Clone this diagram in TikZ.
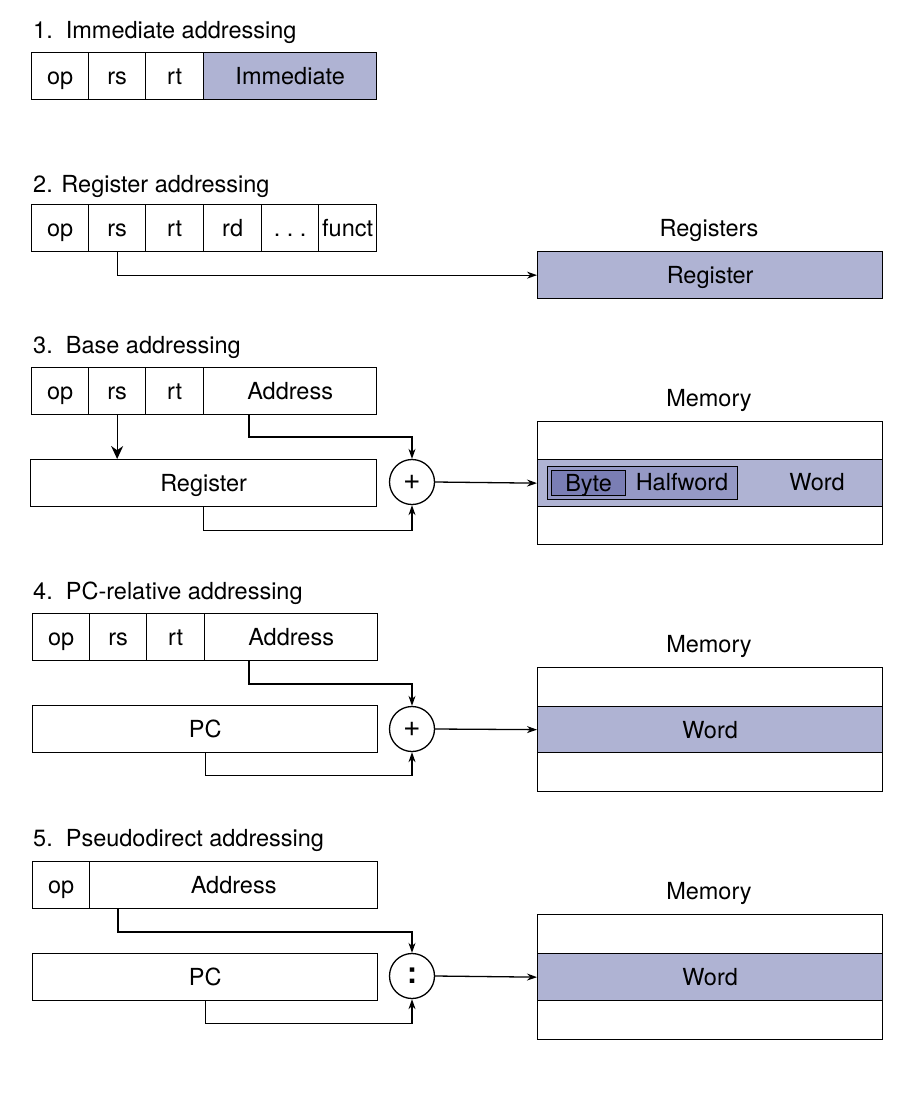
\documentclass[tikz,border=0pt]{standalone}
\usepackage{fontspec}
\setmainfont{TeX Gyre Heros}
\usetikzlibrary{arrows.meta}
\definecolor{lav}{HTML}{AFB3D3}
\definecolor{lavmid}{HTML}{9599C5}
\definecolor{lavdark}{HTML}{7A7EB4}
\begin{document}
\begin{tikzpicture}[x=1pt,y=-1pt,
  every node/.style={font=\fontsize{23.5}{28}\selectfont},
  field/.style={draw, line width=1.3pt, rectangle, inner sep=0pt, anchor=north west,
    text height=16.9pt, text depth=0pt},
  title/.style={anchor=west, inner sep=0pt, text height=16.9pt, text depth=0pt},
  plain/.style={inner sep=0pt, text height=16.9pt, text depth=0pt},
  op/.style={draw, circle, line width=1.3pt, minimum size=45pt, inner sep=0pt},
  arr/.style={line width=1.3pt, -{Stealth[length=10pt, width=7pt]}},
  bigarr/.style={line width=1.3pt, -{Stealth[length=13pt, width=12pt]}}
]
\useasboundingbox (0,0) rectangle (918,1093);

% ---------- 1. Immediate addressing ----------
\node[title] (t1) at (33,30) {1.\ \ Immediate addressing};
\node[field, minimum width=57pt, minimum height=47pt] (op1) at (31,52) {op};
\node[field, minimum width=57pt, minimum height=47pt] (rs1) at (88,52) {rs};
\node[field, minimum width=58pt, minimum height=47pt] (rt1) at (145,52) {rt};
\node[field, fill=lav, minimum width=173pt, minimum height=47pt] (imm1) at (203,52) {Immediate};

% ---------- 2. Register addressing ----------
\node[title] (t2) at (33,184) {2. Register addressing};
\node[field, minimum width=57pt, minimum height=47pt] (op2) at (31,204) {op};
\node[field, minimum width=57pt, minimum height=47pt] (rs2) at (88,204) {rs};
\node[field, minimum width=58pt, minimum height=47pt] (rt2) at (145,204) {rt};
\node[field, minimum width=58pt, minimum height=47pt] (rd2) at (203,204) {rd};
\node[field, minimum width=57pt, minimum height=47pt] (dots2) at (261,204) {.\ .\ .};
\node[field, minimum width=58pt, minimum height=47pt] (fn2) at (318,204) {funct};
\node[plain] (regs2) at (709,228) {Registers};
\node[field, fill=lav, minimum width=345pt, minimum height=47pt] (reg2) at (537,251) {Register};
\draw[arr] (rs2.south) |- (reg2.west);

% ---------- 3. Base addressing ----------
\node[title] (t3) at (33,345) {3.\ \ Base addressing};
\node[field, minimum width=57pt, minimum height=47pt] (op3) at (31,367) {op};
\node[field, minimum width=57pt, minimum height=47pt] (rs3) at (88,367) {rs};
\node[field, minimum width=58pt, minimum height=47pt] (rt3) at (145,367) {rt};
\node[field, minimum width=173pt, minimum height=47pt] (ad3) at (203,367) {Address};
\node[field, minimum width=346pt, minimum height=47pt] (reg3) at (30,459) {Register};
\node[op] (add3) at (412,482) {\fontsize{30}{34}\selectfont +};
\node[plain] (mlab3) at (709,398) {Memory};
\node[field, minimum width=345pt, minimum height=38pt] (m3a) at (537,421) {};
\node[field, fill=lav, minimum width=345pt, minimum height=47pt] (m3b) at (537,459) {};
\node[field, minimum width=345pt, minimum height=38pt] (m3c) at (537,506) {};
\node[field, fill=lavmid, minimum width=190pt, minimum height=33pt] (hw3) at (547,466) {};
\node[field, fill=lavdark, minimum width=74pt, minimum height=25pt] (by3) at (551,470) {Byte};
\node[plain] (hwl3) at (682,482) {Halfword};
\node[plain] (wl3) at (817,482) {Word};
\coordinate (j3) at (249,437);
\draw[bigarr] (rs3.south) -- (rs3.south |- reg3.north);
\draw[arr] (j3 |- ad3.south) -- (j3) -| (add3.north);
\draw[arr] (reg3.south) -- ++(0,23) -| (add3.south);
\draw[arr] (add3.east) -- (m3b.west);

% ---------- 4. PC-relative addressing ----------
\node[title] (t4) at (33,591) {4.\ \ PC-relative addressing};
\node[field, minimum width=57pt, minimum height=47pt] (op4) at (32,613) {op};
\node[field, minimum width=57pt, minimum height=47pt] (rs4) at (89,613) {rs};
\node[field, minimum width=58pt, minimum height=47pt] (rt4) at (146,613) {rt};
\node[field, minimum width=173pt, minimum height=47pt] (ad4) at (204,613) {Address};
\node[field, minimum width=345pt, minimum height=47pt] (pc4) at (32,705) {PC};
\node[op] (add4) at (412,729) {\fontsize{30}{34}\selectfont +};
\node[plain] (mlab4) at (709,644) {Memory};
\node[field, minimum width=345pt, minimum height=39pt] (m4a) at (537,667) {};
\node[field, fill=lav, minimum width=345pt, minimum height=46pt] (m4b) at (537,706) {Word};
\node[field, minimum width=345pt, minimum height=39pt] (m4c) at (537,752) {};
\coordinate (j4) at (249,684);
\draw[arr] (j4 |- ad4.south) -- (j4) -| (add4.north);
\draw[arr] (pc4.south) -- ++(0,22) -| (add4.south);
\draw[arr] (add4.east) -- (m4b.west);

% ---------- 5. Pseudodirect addressing ----------
\node[title] (t5) at (33,838) {5.\ \ Pseudodirect addressing};
\node[field, minimum width=57pt, minimum height=47pt] (op5) at (32,861) {op};
\node[field, minimum width=288pt, minimum height=47pt] (ad5) at (89,861) {Address};
\node[field, minimum width=345pt, minimum height=47pt] (pc5) at (32,953) {PC};
\node[op] (cat5) at (412,976) {\fontsize{30}{34}\selectfont\bfseries :};
\node[plain] (mlab5) at (709,891) {Memory};
\node[field, minimum width=345pt, minimum height=39pt] (m5a) at (537,914) {};
\node[field, fill=lav, minimum width=345pt, minimum height=47pt] (m5b) at (537,953) {Word};
\node[field, minimum width=345pt, minimum height=39pt] (m5c) at (537,1000) {};
\coordinate (j5) at (118,932);
\draw[arr] (j5 |- ad5.south) -- (j5) -| (cat5.north);
\draw[arr] (pc5.south) -- ++(0,22) -| (cat5.south);
\draw[arr] (cat5.east) -- (m5b.west);
\end{tikzpicture}
\end{document}
